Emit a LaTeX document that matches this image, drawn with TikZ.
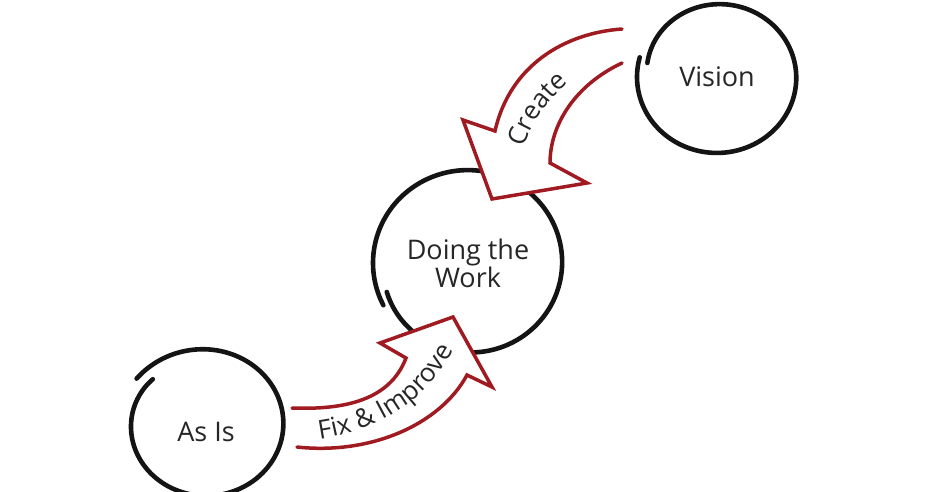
\documentclass[tikz,border=0pt]{standalone}
\usepackage{fontspec}
\setmainfont{Open Sans}
\usetikzlibrary{decorations.text}
\definecolor{arrowred}{RGB}{160,26,34}
\definecolor{txt}{RGB}{38,38,38}
\newcommand\lblfont{\fontsize{26}{28}\selectfont}
\tikzset{
  ring/.style={line width=4.6pt, line cap=round, draw=black!92},
  arrowline/.style={draw=arrowred, line width=3.5pt, line join=miter, line cap=round},
  lbl/.style={text=txt, font=\fontsize{27}{28}\selectfont, align=center},
  pathtext/.style={decorate, decoration={text along path, text align=center, text color=txt}},
}
\begin{document}
\begin{tikzpicture}[x=1pt,y=-1pt]
\useasboundingbox (0,0) rectangle (940,491);
\fill[white] (0,0) rectangle (940,491);

% circles (hand-drawn, slightly overlapping ends)
\draw[ring] plot[smooth, domain=165:528, samples=90, variable=\t]
  ({717+80*(1-0.11*((\t-165)/363)^4)*cos(\t)}, {77-76*(1-0.11*((\t-165)/363)^4)*sin(\t)});
\draw[ring] plot[smooth, domain=207:-160, samples=90, variable=\t]
  ({468+95*(1-0.09*((207-\t)/367)^4)*cos(\t)}, {263-93*(1-0.09*((207-\t)/367)^4)*sin(\t)});
\draw[ring] plot[smooth, domain=138:505, samples=90, variable=\t]
  ({206+77*(1+0.1*((\t-138)/367)^6-0.07*(1-(\t-138)/367)^8)*cos(\t)},
   {424-72*(1+0.1*((\t-138)/367)^6-0.07*(1-(\t-138)/367)^8)*sin(\t)});

\node[lbl] (vision) at (717,77) {Vision};
\node[lbl] (work) at (468,263) {Doing the\\Work};
\node[lbl] (asis) at (206,432) {As Is};

% Create arrow
\fill[white] (622,29) .. controls (565,33) and (510,65) .. (495,131) -- (463,120) -- (492,199)
  -- (587,183) -- (550,163) .. controls (550,125) and (575,85) .. (622,63) -- cycle;
\draw[arrowline] (622,29) .. controls (565,33) and (510,65) .. (495,131) -- (463,120) -- (492,199)
  -- (587,183) -- (550,163) .. controls (550,125) and (575,85) .. (622,63);
\path[pathtext, decoration={text={|\lblfont|Create}}]
  (520,158) .. controls (530,125) and (545,100) .. (577,76);

% Fix & Improve arrow
\fill[white] (292,408) .. controls (345,410) and (390,400) .. (406,358) -- (380,343) -- (453,317)
  -- (492,387) -- (467,375) .. controls (440,425) and (370,455) .. (297,447) -- cycle;
\draw[arrowline] (292,408) .. controls (345,410) and (390,400) .. (406,358) -- (380,343) -- (453,317)
  -- (492,387) -- (467,375) .. controls (440,425) and (370,455) .. (297,447);
\path[pathtext, decoration={text={|\lblfont|Fix {\&} Improve}}]
  (312,440) .. controls (365,434) and (425,410) .. (457,343);
\end{tikzpicture}
\end{document}
